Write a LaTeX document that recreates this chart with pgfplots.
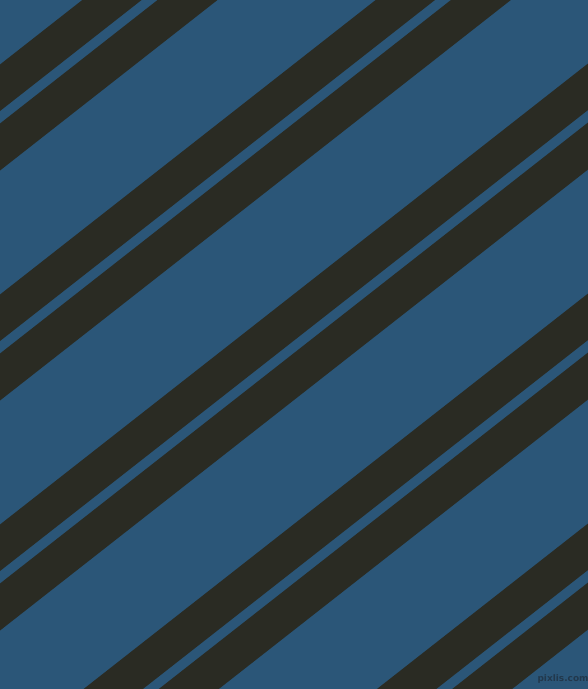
\documentclass[border=0pt]{standalone}
\usepackage{pgfplots}
\pgfplotsset{compat=1.18}
\usepackage{fontspec}
\setmainfont{DejaVu Sans}
\definecolor{bgblue}{HTML}{2B5678}
\definecolor{stripe}{HTML}{2A2B23}
\definecolor{wm}{HTML}{22384C}
\begin{document}
\begin{tikzpicture}
\begin{axis}[
  width=588bp, height=689bp, scale only axis,
  xmin=0, xmax=588, ymin=0, ymax=689, y dir=reverse,
  hide axis, clip=true,
]
\addplot[fill=bgblue, draw=none] coordinates {(-10,-10) (600,-10) (600,700) (-10,700)} -- cycle;
% bands: line y = c - 0.784 x ; x=-50 -> c+39.2 ; x=650 -> c-509.6
% k=0
\addplot[fill=stripe, draw=none] coordinates {(-50,103.7) (650,-445.1) (650,-398.6) (-50,150.2)} -- cycle;
\addplot[fill=stripe, draw=none] coordinates {(-50,162.7) (650,-386.1) (650,-339.1) (-50,209.7)} -- cycle;
% k=1
\addplot[fill=stripe, draw=none] coordinates {(-50,333.7) (650,-215.1) (650,-168.6) (-50,380.2)} -- cycle;
\addplot[fill=stripe, draw=none] coordinates {(-50,392.7) (650,-156.1) (650,-109.1) (-50,439.7)} -- cycle;
% k=2
\addplot[fill=stripe, draw=none] coordinates {(-50,563.7) (650,14.9) (650,61.4) (-50,610.2)} -- cycle;
\addplot[fill=stripe, draw=none] coordinates {(-50,622.7) (650,73.9) (650,120.9) (-50,669.7)} -- cycle;
% k=3
\addplot[fill=stripe, draw=none] coordinates {(-50,793.7) (650,244.9) (650,291.4) (-50,840.2)} -- cycle;
\addplot[fill=stripe, draw=none] coordinates {(-50,852.7) (650,303.9) (650,350.9) (-50,899.7)} -- cycle;
% k=4
\addplot[fill=stripe, draw=none] coordinates {(-50,1023.7) (650,474.9) (650,521.4) (-50,1070.2)} -- cycle;
\addplot[fill=stripe, draw=none] coordinates {(-50,1082.7) (650,533.9) (650,580.9) (-50,1129.7)} -- cycle;
\node[font=\bfseries\fontsize{9}{9}\selectfont, text=wm, inner sep=0pt] at (axis cs:563,679) {pixlis.com};
\end{axis}
\pgfresetboundingbox
\path[use as bounding box] (current axis.south west) rectangle (current axis.north east);
\end{tikzpicture}
\end{document}
